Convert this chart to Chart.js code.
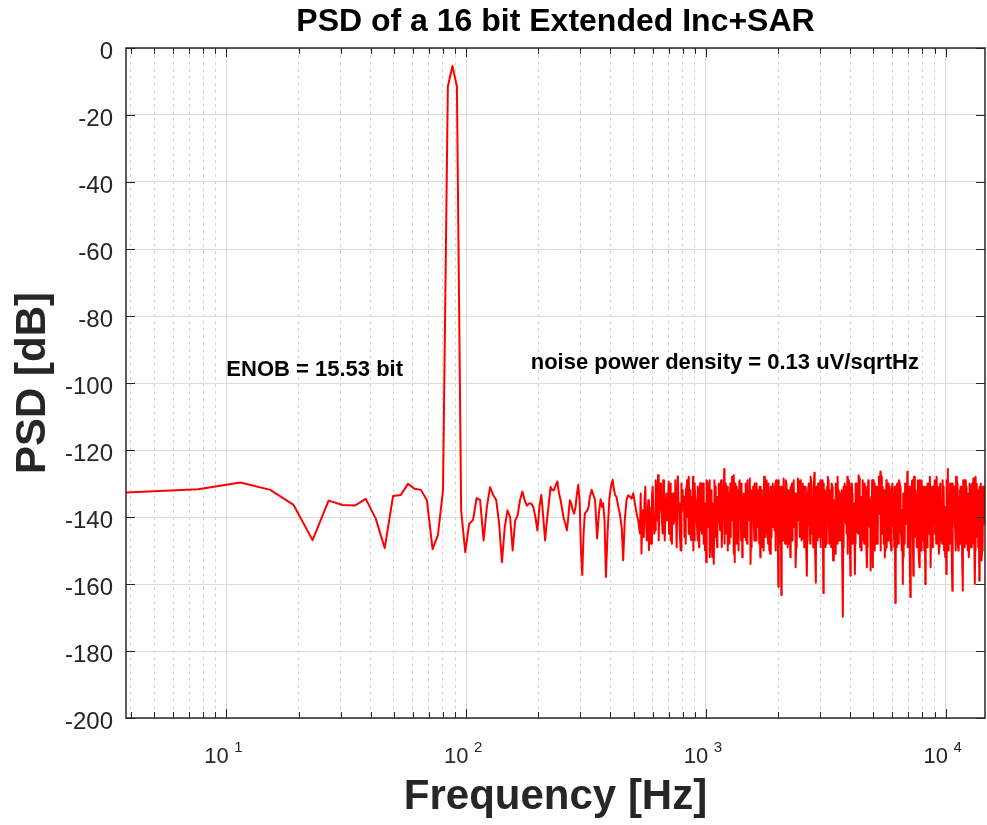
<!DOCTYPE html>
<html>
<head>
<meta charset="utf-8">
<title>PSD of a 16 bit Extended Inc+SAR</title>
<script src="https://cdn.jsdelivr.net/npm/chart.js"></script>
<style>
    body { margin: 0; background: #ffffff; }
    canvas { display: block; }
</style>
</head>
<body>
<canvas id="grafico-psd" width="987" height="825"></canvas>
<script>
// eixo X (Hz) e PSD (dB), lidos do grafico original
// sinal e primeiro trecho (bins de ~3.81 Hz)
var lowFreq = [3.81, 7.63, 11.44, 15.26, 19.07, 22.89, 26.70, 30.52, 34.33, 38.15,
               41.96, 45.78, 49.59, 53.41, 57.22, 61.04, 64.85, 68.67, 72.48, 76.29,
               80.11, 83.92, 87.74, 91.55, 95.37];
var lowPsd  = [-132.7, -131.7, -129.7, -131.9, -136.4, -146.9, -135.1, -136.4, -136.6, -134.6,
               -140.4, -149.3, -133.7, -133.4, -130.1, -131.6, -131.9, -135.1, -149.6, -145.4,
               -132.0, -11.5, -5.4, -11.5, -138.0];

// 100 Hz - 330 Hz
var midFreq = [99.18, 103.0, 106.8, 110.6, 114.4, 118.3, 122.1, 125.9, 129.7, 133.5,
               137.3, 141.1, 145.0, 148.8, 152.6, 156.4, 160.2, 164.0, 167.8, 171.7,
               175.5, 179.3, 183.1, 186.9, 190.7, 194.5, 198.4, 202.2, 206.0, 209.8,
               213.6, 217.4, 221.3, 225.1, 228.9, 232.7, 236.5, 240.3, 244.1, 248.0,
               251.8, 255.6, 259.4, 263.2, 267.0, 270.8, 274.7, 278.5, 282.3, 286.1,
               289.9, 293.7, 297.5, 301.4, 305.2, 309.0, 312.8, 316.6, 320.4, 324.3,
               328.1];
var midPsd  = [-150.5, -142, -141, -134.4, -134.9, -147, -137, -131.1, -133.4, -134.9,
               -141.9, -153.5, -143, -138, -140, -150, -141, -139.5, -135, -132.4,
               -135, -136.6, -136, -136, -137, -140, -144, -137, -133.4, -140,
               -147, -141, -136, -131, -132, -132, -130.5, -129.4, -133, -135,
               -138, -140.5, -142, -144, -140, -135, -136, -138, -139, -137,
               -133, -130.4, -135, -150, -157.3, -145, -139, -138.5, -138, -137,
               -134];

// 330 Hz - 520 Hz
var bandFreq = [334, 340, 345, 352, 358, 364, 369, 373, 378, 383,
                389, 396, 402, 409, 413, 418, 424, 431, 438, 446,
                452, 459, 467, 474, 482, 490, 498, 506, 514, 522];
var bandPsd  = [-131.9, -133.5, -134.9, -146.4, -139, -134.7, -137, -135.9, -141, -157.9,
                -145, -134.4, -131, -128.9, -131.5, -133.4, -134, -136.9, -139, -143.4,
                -152.9, -141, -134.9, -133.5, -133.9, -134.5, -132.9, -136, -138.9, -141];

// ruido denso acima de 530 Hz
var noiseFreq = [531, 539, 547, 555, 563, 571, 579, 587, 596, 605,
                 614, 623, 632, 641, 650, 660, 669, 679, 689, 700,
                 710, 720, 731, 741, 752, 763, 774, 785, 797, 808,
                 820, 832, 844, 856, 869, 881, 894, 907, 920, 934,
                 947, 961, 975, 989, 1003, 1018, 1033, 1048, 1063, 1079,
                 1094, 1110, 1126, 1143, 1159, 1176, 1193, 1211, 1228, 1246,
                 1264, 1283, 1301, 1320, 1339, 1359, 1379, 1399, 1419, 1440,
                 1461, 1482, 1503, 1525, 1547, 1570, 1593, 1616, 1639, 1663,
                 1687, 1712, 1737, 1762, 1787, 1813, 1840, 1866, 1893, 1921,
                 1949, 1977, 2006, 2035, 2065, 2095, 2125, 2156, 2187, 2219,
                 2251, 2284, 2317, 2351, 2385, 2420, 2455, 2490, 2527, 2563,
                 2600, 2638, 2676, 2715, 2755, 2795, 2835, 2876, 2918, 2960,
                 3003, 3047, 3091, 3136, 3182, 3228, 3275, 3322, 3370, 3419,
                 3469, 3519, 3570, 3622, 3675, 3728, 3782, 3837, 3893, 3949,
                 4007, 4065, 4124, 4184, 4244, 4306, 4368, 4432, 4496, 4561,
                 4627, 4695, 4763, 4832, 4902, 4973, 5045, 5118, 5193, 5268,
                 5344, 5422, 5501, 5580, 5661, 5743, 5827, 5911, 5997, 6084,
                 6172, 6262, 6353, 6445, 6538, 6633, 6729, 6827, 6926, 7026,
                 7128, 7232, 7337, 7443, 7551, 7661, 7772, 7884, 7999, 8115,
                 8233, 8352, 8473, 8596, 8721, 8847, 8976, 9106, 9238, 9372,
                 9508, 9645, 9785, 9927, 10071, 10217, 10365, 10516, 10668, 10823,
                 10980, 11139, 11300, 11464, 11630, 11799, 11970, 12144, 12320, 12498,
                 12680, 12863, 13050, 13239, 13431, 13626, 13824, 14024, 14227, 14434,
                 14643];
var noisePsd  = [-144.9, -150.9, -138, -135.4, -140, -141.9, -149.9, -141, -133.9, -138,
                 -143.9, -135, -127.5, -133, -136.9, -144.9, -139, -136.9, -141, -129.4,
                 -137, -146.9, -140, -135.4, -142, -127.9, -138, -149.9, -136, -133.9,
                 -140, -130.9, -137, -141, -146.9, -138, -129.9, -136, -143.9, -132,
                 -129.9, -137, -139.9, -147, -153.5, -130, -136.9, -144, -151.9, -154,
                 -133.9, -139, -134.9, -142, -129, -138, -125.7, -141, -131, -146,
                 -130, -141, -135, -153.5, -131, -144, -129.5, -139, -152, -133,
                 -145, -131, -140, -128.5, -143, -136, -147, -130, -141, -134,
                 -152, -132, -142, -129, -138, -146, -150, -131, -143, -135,
                 -130, -145, -160.8, -133, -163.3, -131, -140, -129, -144, -137,
                 -152, -130, -141, -135, -147, -128.5, -139, -133, -146, -131,
                 -134, -157.5, -131, -143, -130, -139, -126.8, -159.6, -133, -141,
                 -129, -145, -162.7, -132, -140, -128, -148, -135, -131, -144,
                 -151, -130, -139, -133, -146, -169.8, -131, -142, -128, -145,
                 -157.5, -130, -141, -157, -132, -144, -128.5, -139, -147, -131,
                 -136, -155, -129, -143, -134, -155, -130, -146, -138, -128,
                 -126.5, -145, -132, -152, -129, -140, -135, -148, -130, -143,
                 -165.7, -131, -142, -129, -146, -160, -133, -139, -126.5, -144,
                 -163.9, -130, -157.5, -134, -141, -129, -155, -136, -147, -131,
                 -160, -132, -145, -128, -139, -149, -131, -143, -135, -151,
                 -130, -146, -134, -140, -157, -125.7, -141, -133, -162, -131,
                 -145, -129, -150, -132, -141, -162, -130, -148, -135, -152,
                 -131, -147, -128.5, -160, -137, -133, -159, -130, -149, -136,
                 -131];

// bins intermediarios do ruido
var noiseFreq2 = [535, 543, 551, 559, 567, 575, 583, 591, 600, 609,
                  618, 627, 636, 645, 655, 664, 674, 684, 694,
                  705, 715, 725, 736, 746, 757, 768, 779, 791, 802,
                  814, 826, 838, 850, 862, 875, 887, 900, 913, 927,
                  940, 954, 968, 982, 996, 1010, 1025, 1040, 1055, 1071,
                  1086, 1102, 1118, 1134, 1151, 1167, 1184, 1202, 1219, 1237,
                  1255, 1273, 1292, 1310, 1329, 1349, 1369, 1389, 1409, 1429,
                  1450, 1471, 1492, 1514, 1536, 1558, 1581, 1604, 1627, 1651,
                  1675, 1699, 1724, 1749, 1774, 1800, 1826, 1853, 1879, 1907,
                  1935, 1963, 1991, 2020, 2050, 2080, 2110, 2140, 2171, 2203,
                  2235, 2267, 2300, 2334, 2368, 2402, 2437, 2472, 2508, 2545,
                  2581, 2619, 2657, 2695, 2735, 2775, 2815, 2855, 2897, 2939,
                  2981, 3025, 3069, 3113, 3159, 3205, 3251, 3298, 3346, 3394,
                  3444, 3494, 3544, 3596, 3648, 3701, 3755, 3809, 3865, 3921,
                  3978, 4036, 4094, 4154, 4214, 4275, 4337, 4400, 4464, 4528,
                  4594, 4661, 4729, 4797, 4867, 4937, 5009, 5081, 5155, 5230,
                  5306, 5383, 5461, 5540, 5620, 5702, 5785, 5869, 5954, 6040,
                  6128, 6217, 6307, 6399, 6491, 6585, 6681, 6778, 6876, 6976,
                  7077, 7180, 7284, 7390, 7497, 7606, 7716, 7828, 7941, 8057,
                  8174, 8292, 8412, 8534, 8658, 8784, 8911, 9041, 9172, 9305,
                  9440, 9576, 9715, 9856, 9999, 10144, 10291, 10440, 10592, 10745,
                  10901, 11059, 11219, 11382, 11547, 11714, 11884, 12057, 12232, 12409,
                  12589, 12771, 12956, 13144, 13335, 13528, 13725, 13924, 14125, 14330,
                  14538];
var noisePsd2  = [-133, -139, -146, -131, -147, -135, -137, -148, -131, -145,
                  -129, -141, -147, -130, -140, -129, -147, -133, -137,
                  -131, -147, -133, -142, -129, -149, -135, -144, -130, -138,
                  -146, -132, -140, -128, -145, -134, -150, -131, -139, -147,
                  -133, -144, -130, -148, -136, -129, -143, -152, -132, -140,
                  -129, -146, -134, -141, -131, -149, -137, -130, -145, -135,
                  -148, -131, -139, -127.5, -144, -133, -150, -136, -130, -142,
                  -135, -147, -129, -141, -154, -132, -138, -145, -130, -143,
                  -131, -149, -134, -128, -146, -137, -130, -151, -133, -140,
                  -144, -129, -138, -147, -131, -142, -128.5, -148, -135, -132,
                  -139, -146, -130, -143, -155, -133, -141, -129, -147, -136,
                  -131, -148, -134, -140, -128, -145, -132, -150, -137, -130,
                  -146, -133, -129, -142, -149, -131, -138, -144, -130, -153,
                  -135, -141, -128, -147, -133, -150, -131, -139, -145, -129,
                  -142, -131, -148, -136, -130, -144, -127.5, -149, -134, -140,
                  -130, -146, -133, -141, -156, -129, -143, -135, -148, -131,
                  -139, -128, -145, -132, -150, -136, -130, -147, -133, -141,
                  -131, -149, -135, -129, -144, -138, -152, -130, -142, -134,
                  -147, -131, -140, -128, -146, -133, -150, -136, -129, -143,
                  -135, -148, -130, -142, -155, -131, -139, -145, -128, -141,
                  -132, -146, -129, -150, -137, -133, -144, -130, -148, -136,
                  -140, -128, -147, -134, -131, -151, -138, -129, -145, -133,
                  -130, -149, -136, -143, -128, -146, -132, -140, -153, -131,
                  -142];

// mais bins do ruido (acima de 700 Hz)
var noiseFreq3 = [702, 712, 722, 733, 743, 754, 765, 776, 788, 799,
                  811, 823, 835, 847, 859, 872, 884, 897, 910, 923,
                  937, 950, 964, 978, 992, 1006, 1021, 1036, 1051, 1067,
                  1082, 1098, 1114, 1130, 1147, 1163, 1180, 1197, 1215, 1232,
                  1250, 1268, 1287, 1305, 1324, 1344, 1364, 1384, 1404, 1424,
                  1445, 1466, 1487, 1508, 1530, 1552, 1575, 1598, 1621, 1645,
                  1669, 1693, 1718, 1743, 1768, 1793, 1819, 1846, 1872, 1900,
                  1928, 1956, 1984, 2013, 2042, 2072, 2102, 2132, 2163, 2195,
                  2227, 2259, 2292, 2325, 2359, 2393, 2428, 2463, 2499, 2536,
                  2572, 2609, 2647, 2685, 2725, 2765, 2805, 2845, 2886, 2928,
                  2970, 3014, 3058, 3102, 3147, 3193, 3239, 3286, 3334, 3382,
                  3431, 3481, 3531, 3583, 3635, 3688, 3741, 3795, 3851, 3907,
                  3963, 4021, 4079, 4139, 4199, 4259, 4321, 4384, 4448, 4512,
                  4577, 4644, 4712, 4780, 4849, 4919, 4991, 5063, 5136, 5211,
                  5287, 5363, 5441, 5520, 5600, 5681, 5764, 5848, 5932, 6018,
                  6106, 6194, 6284, 6376, 6468, 6561, 6657, 6753, 6851, 6951,
                  7051, 7154, 7258, 7363, 7470, 7578, 7688, 7800, 7912, 8028,
                  8144, 8262, 8382, 8503, 8627, 8752, 8879, 9008, 9139, 9271,
                  9406, 9542, 9680, 9820, 9963, 10107, 10254, 10402, 10554, 10706,
                  10862, 11019, 11179, 11341, 11505, 11672, 11841, 12013, 12188, 12364,
                  12543, 12725, 12909, 13097, 13287, 13479, 13675, 13874, 14074, 14278,
                  14486];
var noisePsd3  = [-145, -130, -148, -133, -141, -147, -129, -136, -150, -132,
                  -134, -148, -129, -145, -132, -140, -128, -147, -135, -131,
                  -149, -132, -145, -130, -150, -141, -133, -129, -146, -136,
                  -147, -131, -149, -130, -144, -134, -131, -148, -132, -150,
                  -133, -146, -128, -151, -130, -148, -132, -129, -147, -134,
                  -146, -130, -148, -133, -135, -149, -131, -130, -147, -132,
                  -148, -131, -145, -150, -132, -129, -148, -133, -146, -130,
                  -131, -150, -132, -129, -148, -131, -147, -133, -130, -149,
                  -148, -131, -147, -129, -133, -149, -130, -146, -132, -130,
                  -149, -131, -147, -130, -148, -130, -149, -132, -131, -147,
                  -131, -149, -146, -130, -133, -148, -129, -132, -149, -135,
                  -149, -130, -148, -132, -147, -132, -149, -130, -131, -151,
                  -130, -149, -133, -147, -148, -130, -145, -132, -150, -129,
                  -148, -131, -149, -130, -135, -147, -129, -150, -131, -148,
                  -130, -150, -131, -148, -132, -149, -147, -131, -150, -130,
                  -149, -131, -130, -148, -131, -150, -133, -148, -130, -149,
                  -131, -149, -129, -148, -132, -149, -131, -129, -150, -131,
                  -150, -131, -149, -130, -134, -149, -131, -129, -148, -131,
                  -149, -130, -148, -131, -152, -129, -150, -148, -131, -130,
                  -131, -150, -130, -149, -148, -131, -129, -149, -131, -150,
                  -149, -131, -130, -148, -150, -130, -149, -131, -132, -150,
                  -131];

// limites e ticks dos eixos
var xMin = 3.8147;
var xMax = 14600;
var xDecades = [10, 100, 1000, 10000];
var xDecadeExp = ['1', '2', '3', '4'];
var xMinorSteps = [2, 3, 4, 5, 6, 7, 8, 9];
var yMin = -200;
var yMax = 0;
var yStep = 20;

// textos
var tituloGrafico = 'PSD of a 16 bit Extended Inc+SAR';
var textoEnob = 'ENOB = 15.53 bit';
var posEnob = [10, -96];
var textoRuido = 'noise power density = 0.13 uV/sqrtHz';
var posRuido = [186, -94];

var fonte = '"Liberation Sans", Arial, Helvetica, sans-serif';
Chart.defaults.font.family = fonte;

function juntar(freqs, psds) {
    return freqs.map(function (f, i) { return { x: f, y: psds[i] }; });
}
var pontos = juntar(lowFreq, lowPsd)
    .concat(juntar(midFreq, midPsd))
    .concat(juntar(bandFreq, bandPsd))
    .concat(juntar(noiseFreq, noisePsd))
    .concat(juntar(noiseFreq2, noisePsd2))
    .concat(juntar(noiseFreq3, noisePsd3))
    .sort(function (p, q) { return p.x - q.x; });

// moldura, ticks para dentro, rotulos 10^n, titulo e textos
var molduraPlugin = {
    id: 'moldura',
    beforeDraw: function (chart) {
        var ctx = chart.ctx;
        ctx.save();
        ctx.fillStyle = '#ffffff';
        ctx.fillRect(0, 0, chart.width, chart.height);
        ctx.restore();
    },
    afterDraw: function (chart) {
        var ctx = chart.ctx;
        var a = chart.chartArea;
        var xs = chart.scales.x;
        var ys = chart.scales.y;
        ctx.save();

        // ticks
        ctx.strokeStyle = '#262626';
        ctx.lineWidth = 1;
        ctx.beginPath();
        xs.ticks.forEach(function (t) {
            var px = Math.round(xs.getPixelForValue(t.value)) + 0.5;
            var len = t.major ? 9 : 6;
            ctx.moveTo(px, a.bottom); ctx.lineTo(px, a.bottom - len);
            ctx.moveTo(px, a.top); ctx.lineTo(px, a.top + len);
        });
        ys.ticks.forEach(function (t) {
            var py = Math.round(ys.getPixelForValue(t.value)) + 0.5;
            ctx.moveTo(a.left, py); ctx.lineTo(a.left + 9, py);
            ctx.moveTo(a.right, py); ctx.lineTo(a.right - 9, py);
        });
        ctx.stroke();

        // caixa
        ctx.lineWidth = 1.5;
        ctx.strokeRect(a.left, a.top, a.right - a.left, a.bottom - a.top);

        // rotulos do eixo X
        ctx.fillStyle = '#262626';
        ctx.textAlign = 'left';
        ctx.textBaseline = 'alphabetic';
        xDecades.forEach(function (d, i) {
            var px = xs.getPixelForValue(d);
            ctx.font = '22px ' + fonte;
            ctx.fillText('10', px - 22, 763);
            ctx.font = '15px ' + fonte;
            ctx.fillText(xDecadeExp[i], px + 8, 752);
        });

        // titulo
        ctx.fillStyle = '#000000';
        ctx.textAlign = 'center';
        ctx.textBaseline = 'middle';
        ctx.font = 'bold 32px ' + fonte;
        ctx.fillText(tituloGrafico, (a.left + a.right) / 2, 22);

        // anotacoes
        ctx.textAlign = 'left';
        ctx.font = 'bold 22px ' + fonte;
        ctx.fillText(textoEnob, xs.getPixelForValue(posEnob[0]), ys.getPixelForValue(posEnob[1]));
        ctx.fillText(textoRuido, xs.getPixelForValue(posRuido[0]), ys.getPixelForValue(posRuido[1]));

        ctx.restore();
    }
};

var config = {
    type: 'line',
    data: {
        datasets: [{
            label: 'PSD',
            data: pontos,
            borderColor: '#ff0000',
            borderWidth: 2,
            borderJoinStyle: 'round',
            pointRadius: 0,
            tension: 0,
            fill: false
        }]
    },
    options: {
        responsive: false,
        devicePixelRatio: 1,
        animation: false,
        layout: { padding: { top: 48, right: 2, left: 0, bottom: 0 } },
        plugins: {
            legend: { display: false },
            tooltip: { enabled: false },
            title: { display: false }
        },
        scales: {
            x: {
                type: 'logarithmic',
                min: xMin,
                max: xMax,
                afterBuildTicks: function (scale) {
                    var lista = [];
                    [1].concat(xDecades).forEach(function (d) {
                        xMinorSteps.forEach(function (m) {
                            var v = d * m;
                            if (v > xMin && v < xMax) lista.push({ value: v, major: false });
                        });
                    });
                    xDecades.forEach(function (d) { lista.push({ value: d, major: true }); });
                    lista.sort(function (p, q) { return p.value - q.value; });
                    scale.ticks = lista;
                },
                afterFit: function (scale) { scale.height = 107; },
                ticks: { display: false },
                grid: {
                    drawTicks: false,
                    color: function (c) { return c.tick && c.tick.major ? '#dcdcdc' : '#d2d2d2'; }
                },
                border: {
                    display: false,
                    dash: function (c) { return c.tick && !c.tick.major ? [3, 4] : []; }
                },
                title: {
                    display: true,
                    text: 'Frequency [Hz]',
                    color: '#262626',
                    font: { size: 42, weight: 'bold' },
                    padding: { top: 0, bottom: 2 }
                }
            },
            y: {
                min: yMin,
                max: yMax,
                afterFit: function (scale) { scale.width = 126; },
                ticks: {
                    stepSize: yStep,
                    color: '#262626',
                    font: { size: 24 },
                    padding: 13,
                    labelOffset: 4
                },
                grid: { drawTicks: false, color: '#dcdcdc' },
                border: { display: false },
                title: {
                    display: true,
                    text: 'PSD [dB]',
                    color: '#262626',
                    font: { size: 42, weight: 'bold' },
                    padding: { top: 8, bottom: 0 }
                }
            }
        }
    },
    plugins: [molduraPlugin]
};

var canva_psd = document.getElementById('grafico-psd');
var graficoPsd = new Chart(canva_psd, config);
</script>
</body>
</html>
